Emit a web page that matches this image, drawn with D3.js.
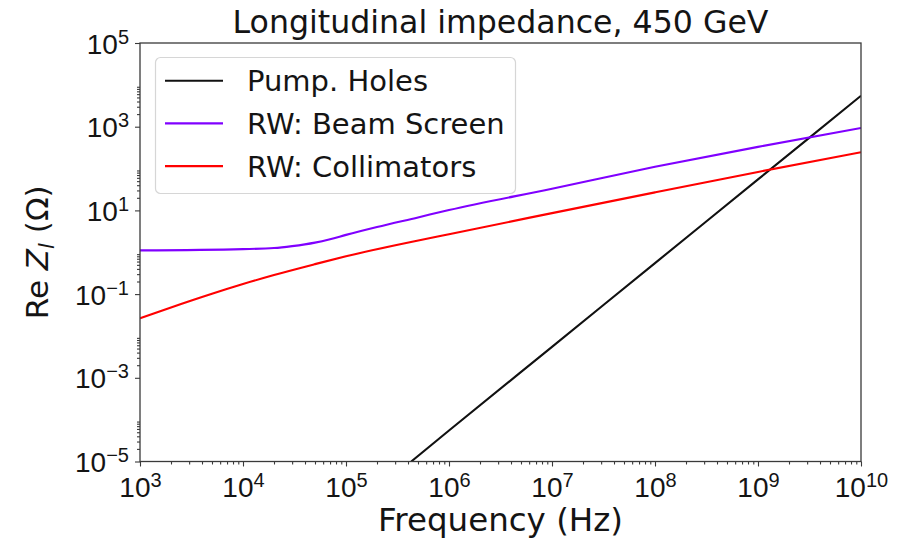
<!DOCTYPE html>
<html>
<head>
<meta charset="utf-8">
<script src="https://cdn.jsdelivr.net/npm/d3@7"></script>
<style>
  html, body { margin: 0; padding: 0; background: #fff; }
  svg { display: block; font-family: "DejaVu Sans", sans-serif; }
</style>
</head>
<body>
<svg id="chart" width="906" height="541"></svg>
<script>
// ---- Data ----
const titleText = "Longitudinal impedance, 450 GeV";
const xLabelText = "Frequency (Hz)";

const xTickExps = [3, 4, 5, 6, 7, 8, 9, 10];
const yTickExps = [-5, -3, -1, 1, 3, 5];

// Pump. Holes
const freqPump = [4.3e5, 1e6, 1e7, 1e8, 1e9, 1e10];
const zPump    = [1e-5, 5.5e-5, 5.5e-3, 0.55, 55, 5500];

// RW: Beam Screen
const freqBS = [1e3, 1e4, 2e4, 3e4, 5e4, 7e4, 1e5, 2e5, 5e5, 1e6, 1e7, 1e8, 1e9, 1e10];
const zBS    = [1.11, 1.19, 1.26, 1.40, 1.70, 2.05, 2.6, 4.0, 6.8, 10.2, 33, 110, 330, 935];

// RW: Collimators
const freqColl = [1e3, 2e3, 5e3, 1e4, 2e4, 5e4, 1e5, 1e6, 1e7, 1e8, 1e9, 1e10];
const zColl    = [0.0264, 0.048, 0.102, 0.174, 0.286, 0.52, 0.80, 2.7, 8.6, 27, 83, 245];

const seriesNames  = ["Pump. Holes", "RW: Beam Screen", "RW: Collimators"];
const seriesColors = ["#111111", "#8000ff", "#ff0000"];

// ---- Layout ----
const L = 140, R = 861, T = 43, B = 461.5;
const svg = d3.select("#chart");

const x = d3.scaleLog().domain([1e3, 1e10]).range([L, R]);
const y = d3.scaleLog().domain([1e-5, 1e5]).range([B, T]);

const textColor = "#141414";
const axisColor = "#3a3a3a";

// clip
svg.append("defs").append("clipPath").attr("id", "plotclip")
  .append("rect").attr("x", L).attr("y", T).attr("width", R - L).attr("height", B - T);

// ---- Minor ticks ----
const xMinor = [];
for (let d = 3; d < 10; d++) for (let k = 2; k <= 9; k++) xMinor.push(k * Math.pow(10, d));
const yMinor = [];
[-5, -3, -1, 1, 3].forEach(d => { for (let k = 2; k <= 9; k++) yMinor.push(k * Math.pow(10, d)); });

function styleAxis(g) {
  g.select(".domain").remove();
  g.selectAll(".tick line").attr("stroke", axisColor).attr("stroke-width", 1.1);
}

svg.append("g").attr("transform", `translate(0,${B})`)
  .call(d3.axisBottom(x).tickValues(xMinor).tickSize(3).tickSizeOuter(0).tickFormat(() => ""))
  .call(styleAxis);
svg.append("g").attr("transform", `translate(${L},0)`)
  .call(d3.axisLeft(y).tickValues(yMinor).tickSize(3).tickSizeOuter(0).tickFormat(() => ""))
  .call(styleAxis);

// ---- Major ticks ----
const xAxisG = svg.append("g").attr("transform", `translate(0,${B})`)
  .call(d3.axisBottom(x).tickValues(xTickExps.map(e => Math.pow(10, e))).tickSize(5).tickSizeOuter(0).tickFormat(() => ""))
  .call(styleAxis);
xAxisG.selectAll(".tick text").remove();
xAxisG.selectAll(".tick").each(function(d, i) {
  const t = d3.select(this).append("text")
    .attr("y", 35.5).attr("text-anchor", "middle")
    .attr("fill", textColor).style("font-size", "28px");
  t.append("tspan").text("10");
  t.append("tspan").attr("dy", -10).style("font-size", "20px").text(String(xTickExps[i]).replace("-", "\u2212"));
});

const yAxisG = svg.append("g").attr("transform", `translate(${L},0)`)
  .call(d3.axisLeft(y).tickValues(yTickExps.map(e => Math.pow(10, e))).tickSize(5).tickSizeOuter(0).tickFormat(() => ""))
  .call(styleAxis);
yAxisG.selectAll(".tick text").remove();
yAxisG.selectAll(".tick").each(function(d, i) {
  const t = d3.select(this).append("text")
    .attr("x", -11).attr("y", 10).attr("text-anchor", "end")
    .attr("fill", textColor).style("font-size", "28px");
  t.append("tspan").text("10");
  t.append("tspan").attr("dy", -10).style("font-size", "20px").text(String(yTickExps[i]).replace("-", "\u2212"));
});

// ---- Lines ----
const line = d3.line()
  .x(d => x(d[0])).y(d => y(d[1]))
  .curve(d3.curveMonotoneX);

const seriesData = [
  d3.zip(freqPump, zPump),
  d3.zip(freqBS, zBS),
  d3.zip(freqColl, zColl)
];

const plotG = svg.append("g").attr("clip-path", "url(#plotclip)");
seriesData.forEach((data, i) => {
  plotG.append("path").datum(data)
    .attr("d", line)
    .attr("fill", "none")
    .attr("stroke", seriesColors[i])
    .attr("stroke-width", 2.1)
    .attr("stroke-linejoin", "round")
    .attr("stroke-linecap", "butt");
});

// ---- Frame ----
svg.append("rect")
  .attr("x", L).attr("y", T).attr("width", R - L).attr("height", B - T)
  .attr("fill", "none").attr("stroke", axisColor).attr("stroke-width", 1.3);

// ---- Title & labels ----
svg.append("text")
  .attr("x", (L + R) / 2).attr("y", 33).attr("text-anchor", "middle")
  .attr("fill", textColor).style("font-size", "31.6px").text(titleText);

svg.append("text")
  .attr("x", (L + R) / 2).attr("y", 531).attr("text-anchor", "middle")
  .attr("fill", textColor).style("font-size", "32.5px").text(xLabelText);

const yl = svg.append("text")
  .attr("transform", `translate(48,${(T + B) / 2}) rotate(-90)`)
  .attr("text-anchor", "middle")
  .attr("fill", textColor).style("font-size", "31px");
yl.append("tspan").text("Re ");
yl.append("tspan").style("font-style", "italic").text("Z");
yl.append("tspan").attr("dy", 6).style("font-style", "italic").style("font-size", "21px").text("l");
yl.append("tspan").attr("dy", -6).text(" (\u03A9)");

// ---- Legend ----
const lg = svg.append("g");
lg.append("rect")
  .attr("x", 155.5).attr("y", 57.5).attr("width", 360).attr("height", 136)
  .attr("rx", 5).attr("ry", 5)
  .attr("fill", "#fff").attr("fill-opacity", 0.8)
  .attr("stroke", "#d6d6d6").attr("stroke-width", 1.2);
seriesNames.forEach((name, i) => {
  const cy = 80.7 + i * 42.7;
  lg.append("line")
    .attr("x1", 165).attr("x2", 223).attr("y1", cy).attr("y2", cy)
    .attr("stroke", seriesColors[i]).attr("stroke-width", 2.1);
  lg.append("text")
    .attr("x", 247).attr("y", cy).attr("dy", "0.36em")
    .attr("fill", textColor).style("font-size", "29px").text(name);
});
</script>
</body>
</html>
